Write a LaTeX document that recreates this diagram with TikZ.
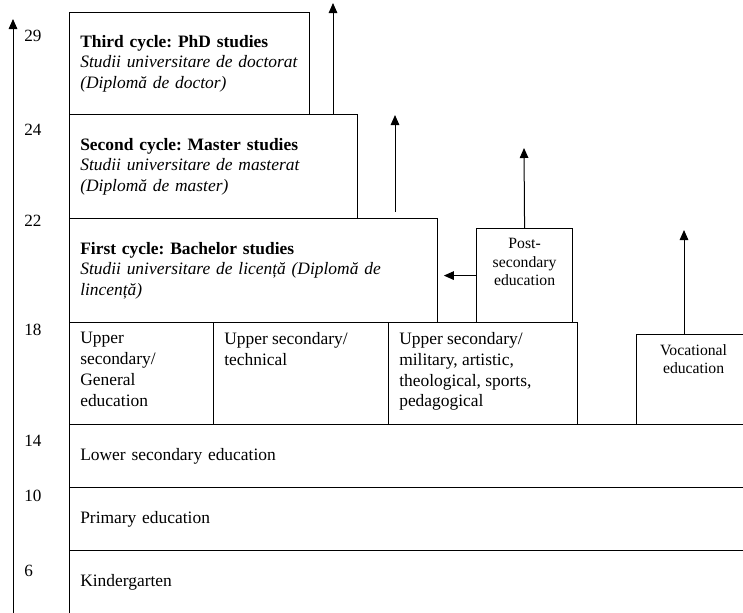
\documentclass[tikz,border=0pt]{standalone}
\usepackage{fontspec}
\setmainfont{Liberation Serif}
\usetikzlibrary{arrows.meta}
\frenchspacing

\begin{document}
\begin{tikzpicture}[
    x = 0.7pt, y = -0.7pt,
    tier/.style = {draw, line width = 0.8pt, anchor = north west,
        inner xsep = 7.5pt, inner ysep = 0pt, align = left,
        font = \fontsize{12.2}{14.5}\selectfont},
    topbox/.style = {tier, inner ysep = 7pt},
    side/.style = {topbox, font = \fontsize{11}{12.8}\selectfont},
    agelabel/.style = {anchor = west, inner sep = 0pt,
        font = \fontsize{12}{14}\selectfont},
    route/.style = {-{Triangle[length=7pt, width=6pt]}, line width = 0.7pt}]

\useasboundingbox (0,0) rectangle (743,612);

% university cycles
\node[tier, text width=153pt, minimum height=71.4pt] (third) at (69,12)
    {\textbf{Third cycle: PhD studies}\\
     \textit{Studii universitare de doctorat}\\
     \textit{(Diplomă de doctor)}};
\node[tier, text width=186.6pt, minimum height=72.8pt] (second) at (69,114)
    {\textbf{Second cycle: Master studies}\\
     \textit{Studii universitare de masterat}\\
     \textit{(Diplomă de master)}};
\node[tier, text width=242.6pt, minimum height=72.8pt] (first) at (69,218)
    {\textbf{First cycle: Bachelor studies}\\
     \textit{Studii universitare de licență (Diplomă de}\\
     \textit{lincență)}};

% upper secondary
\node[topbox] (upgen) at (69,322)
    {\parbox[t][57.4pt][t]{85.8pt}{Upper\\ secondary/\\ General\\ education}};
\node[topbox] (uptech) at (213,322)
    {\parbox[t][57.4pt][t]{107.5pt}{Upper secondary/\\ technical}};
\node[topbox] (upmil) at (388,322)
    {\parbox[t][57.4pt][t]{117.3pt}{Upper secondary/\\ military, artistic,\\ theological, sports,\\ pedagogical}};
\node[side] (post) at (476,228)
    {\parbox[t][51.8pt][t]{52.2pt}{\centering Post-\\ secondary\\ education}};
\node[side] (voc) at (636,334)
    {\parbox[t][49pt][t]{64.8pt}{\centering Vocational\\ education}};

% compulsory levels
\node[tier, text width=461.7pt, minimum height=44.1pt] (lowersec) at (69,424)
    {Lower secondary education};
\node[tier, text width=461.7pt, minimum height=44.1pt] (primary) at (69,487)
    {Primary education};
\node[tier, text width=461.7pt, minimum height=44.8pt] (kinder) at (69,550)
    {Kindergarten};

% ages
\foreach \age/\y in {29/36, 24/130, 22/221, 18/330, 14/441, 10/496, 6/571}
    \node[agelabel] (age\age) at (24,\y) {\age};

% arrows
\coordinate (axisfoot) at (13,616);
\coordinate (axistop) at (13,19);
\draw[route] (axisfoot) -- (axistop);
\coordinate (phdtip) at (333,3);
\draw[route] (phdtip |- second.north) -- (phdtip);
\coordinate (mastail) at (395,212);
\coordinate (mastip) at (395,115);
\draw[route] (mastail) -- (mastip);
\coordinate (posttip) at (524,148);
\draw[route] (post.north) -- (posttip);
\draw[route, shorten >= 4pt] (post.west) -- (post.west -| first.east);
\coordinate (voctip) at (684,230);
\draw[route] (voctip |- voc.north) -- (voctip);
\end{tikzpicture}
\end{document}
